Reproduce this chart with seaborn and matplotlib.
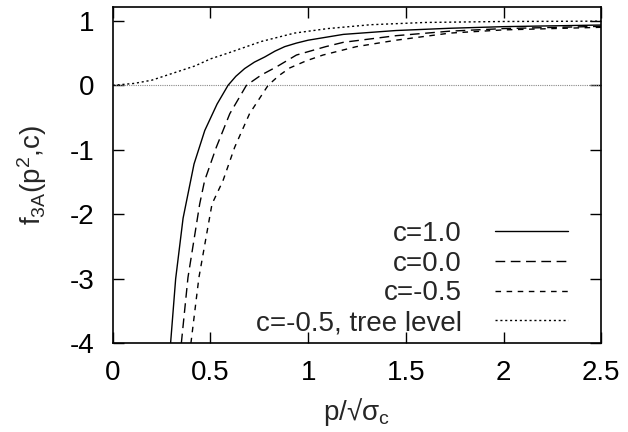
import matplotlib
matplotlib.use("Agg")
import matplotlib.pyplot as plt
import seaborn as sns

# values
x_c10 = [0.296, 0.322, 0.36, 0.416, 0.471, 0.534, 0.59, 0.63, 0.675, 0.725, 0.778, 0.83, 0.88, 0.94, 1.0, 1.18, 1.45, 1.725, 2.0, 2.5]
f_c10 = [-4.0, -3.0, -2.06, -1.22, -0.70, -0.29, 0.0, 0.14, 0.26, 0.36, 0.44, 0.53, 0.60, 0.655, 0.70, 0.79, 0.85, 0.885, 0.91, 0.935]

x_c00 = [0.351, 0.385, 0.445, 0.47, 0.53, 0.599, 0.684, 0.76, 0.84, 0.94, 1.09, 1.18, 1.45, 1.725, 2.0, 2.5]
f_c00 = [-4.0, -2.98, -1.84, -1.48, -0.96, -0.44, 0.0, 0.16, 0.29, 0.47, 0.60, 0.667, 0.77, 0.84, 0.88, 0.915]

x_cm05 = [0.40, 0.441, 0.508, 0.564, 0.624, 0.70, 0.795, 0.85, 0.906, 0.99, 1.076, 1.247, 1.45, 1.725, 2.0, 2.5]
f_cm05 = [-4.0, -2.98, -1.84, -1.48, -0.96, -0.44, 0.0, 0.15, 0.27, 0.38, 0.47, 0.60, 0.70, 0.81, 0.86, 0.90]

x_tree = [0.0, 0.11, 0.2, 0.30, 0.42, 0.5, 0.59, 0.76, 0.93, 1.1, 1.32, 1.6, 2.0, 2.5]
f_tree = [0.0, 0.03, 0.08, 0.18, 0.30, 0.41, 0.50, 0.68, 0.81, 0.88, 0.94, 0.975, 0.99, 0.995]

series = [
    ("c=1.0", x_c10, f_c10, "-"),
    ("c=0.0", x_c00, f_c00, (0, (7, 4))),
    ("c=-0.5", x_cm05, f_cm05, (0, (4, 4))),
    ("c=-0.5, tree level", x_tree, f_tree, (0, (1.5, 2))),
]

sns.set_style("ticks")
plt.rcParams["font.family"] = ["Liberation Sans", "DejaVu Sans"]
plt.rcParams["mathtext.fontset"] = "custom"
plt.rcParams["mathtext.rm"] = "Liberation Sans"
plt.rcParams["mathtext.it"] = "Liberation Sans"

FS = 20

fig = plt.figure(figsize=(6.28, 4.32), dpi=100)
ax = fig.add_axes([0.1795, 0.2053, 0.778, 0.7778])

ax.axhline(0, color="#888888", lw=0.8, linestyle=(0, (1, 1)), zorder=1)

for label, xs, ys, ls in series:
    sns.lineplot(x=xs, y=ys, ax=ax, color="black", lw=1.0, linestyle=ls,
                 sort=False, estimator=None, label=label)

ax.set_xlim(0, 2.5)
ax.set_ylim(-4, 1.21)
ax.set_xticks([0, 0.5, 1, 1.5, 2, 2.5])
ax.set_xticklabels(["0", "0.5", "1", "1.5", "2", "2.5"])
ax.set_yticks([-4, -3, -2, -1, 0, 1])
ax.set_yticklabels(["-4", "-3", "-2", "-1", "0", "1"])
ax.tick_params(direction="in", length=8, width=1, top=True, right=True,
               labelsize=FS, colors="black")
ax.tick_params(axis="x", pad=12)
ax.tick_params(axis="y", pad=13)
for sp in ax.spines.values():
    sp.set_visible(True)
    sp.set_linewidth(1.2)
    sp.set_color("black")

ax.set_xlabel("p/\u221a\u03c3$_{\\rm c}$", fontsize=FS, labelpad=7)
ax.set_ylabel("f$_{\\rm 3A}$(p$^{\\rm 2}$,c)", fontsize=FS, labelpad=15)

leg = ax.legend(loc="lower right", bbox_to_anchor=(0.927, 0.19),
                bbox_transform=fig.transFigure, frameon=False,
                markerfirst=False, fontsize=FS, handlelength=2.63,
                handletextpad=1.2, labelspacing=0.13, borderpad=0)
for t in leg.get_texts():
    t.set_ha("right")

fig.savefig("out.png", dpi=100)
